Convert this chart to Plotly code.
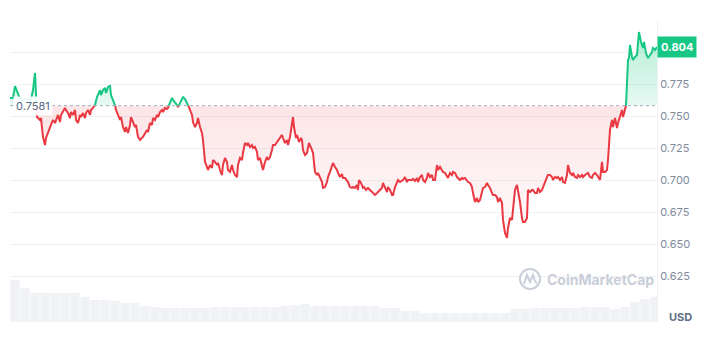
import plotly.graph_objects as go

BASE = 0.7581
LAST = 0.804

# time step index (one step ~ 2.2 minutes over a 24h window)
t_idx = [0, 3, 5, 8, 10, 14, 18, 21, 23, 25, 26, 27, 30, 31, 33, 35, 36, 38, 41, 43, 45, 48, 50, 51, 55, 56, 58, 60, 61, 63, 65, 66, 68, 70, 71, 73, 75, 76, 78, 80, 81, 83, 85, 87, 90, 91, 93, 95, 96, 98, 100, 101, 103, 105, 106, 108, 110, 111, 113, 115, 116, 118, 120, 121, 123, 125, 126, 128, 130,
         133, 137, 138, 140, 142, 143, 145, 147, 148, 150, 152, 153, 155, 157, 158, 160, 162, 163, 165, 167, 168, 170, 172, 173, 175, 177, 178, 180, 182, 183, 185, 187, 188, 190, 192, 193, 195, 197, 198, 200, 202, 203, 205, 207, 208, 210, 212, 213, 215, 217, 218, 220, 222, 223, 225, 227, 228, 230, 232, 233, 235, 237, 238, 240, 242, 243, 245, 247, 248, 250, 252, 253, 255, 257, 258, 260, 262, 263,
         265, 267, 268, 270, 272, 273, 275, 277, 278, 280, 282, 283, 284, 286, 287, 289, 291, 292, 293, 295, 297, 298, 299, 302, 303, 305, 307, 308, 310, 312, 313, 315, 317, 318, 320, 322, 323, 325, 327, 328, 330, 332, 333, 335, 337, 338, 340, 342, 343, 345, 347, 348, 349, 351, 353, 354, 356, 358, 360, 362, 363, 365, 367, 368, 370, 372, 373, 375, 377, 378, 380, 382, 383, 385, 387, 388, 390,
         393, 395, 397, 398, 402, 403, 405, 407, 408, 410, 412, 413, 415, 417, 418, 420, 422, 423, 425, 427, 428, 430, 432, 433, 435, 437, 438, 440, 442, 443, 445, 447, 448, 450, 452, 453, 455, 457, 458, 460, 462, 463, 465, 467, 468, 470, 472, 473, 475, 477, 478, 480, 482, 483, 485, 487, 488, 490, 492, 493, 495, 497, 498, 500, 502, 503, 505, 507, 508, 510, 512, 513, 515, 517, 518, 520, 522,
         523, 525, 527, 528, 530, 532, 533, 535, 537, 538, 540, 542, 543, 545, 547, 548, 550, 552, 553, 555, 557, 558, 560, 562, 563, 565, 567, 568, 570, 572, 573, 575, 577, 578, 580, 582, 583, 585, 587, 588, 590, 592, 593, 595, 597, 598, 600, 602, 603, 605, 607, 608, 610, 612, 613, 615, 616, 617, 618, 619, 620, 622, 623, 625, 627, 628, 629, 631, 633, 634, 636, 638, 640, 642, 643, 645, 647]

price = [0.7641, 0.7641, 0.7734, 0.7680, 0.7633, 0.7625, 0.7633, 0.7625, 0.7703, 0.7836, 0.7703, 0.7492, 0.7469, 0.7484, 0.7336, 0.7273, 0.7328, 0.7375, 0.7430, 0.7469, 0.7445, 0.7508, 0.7453, 0.7508, 0.7563, 0.7547, 0.7523, 0.7484, 0.7531, 0.7508, 0.7547, 0.7469, 0.7445, 0.7508, 0.7492, 0.7523, 0.7484, 0.7523, 0.7547, 0.7508, 0.7547, 0.7563, 0.7586, 0.7648, 0.7703, 0.7664, 0.7703, 0.7719, 0.7680, 0.7727, 0.7734, 0.7664, 0.7625, 0.7586, 0.7547, 0.7508, 0.7469, 0.7492, 0.7414, 0.7375, 0.7414, 0.7367, 0.7430, 0.7492, 0.7453, 0.7414, 0.7430, 0.7336, 0.7313,
         0.7336, 0.7391, 0.7375, 0.7445, 0.7430, 0.7484, 0.7469, 0.7508, 0.7492, 0.7531, 0.7547, 0.7531, 0.7563, 0.7555, 0.7563, 0.7609, 0.7641, 0.7625, 0.7609, 0.7586, 0.7570, 0.7602, 0.7625, 0.7648, 0.7633, 0.7602, 0.7586, 0.7547, 0.7508, 0.7453, 0.7414, 0.7445, 0.7484, 0.7414, 0.7367, 0.7313, 0.7141, 0.7102, 0.7078, 0.7117, 0.7094, 0.7156, 0.7141, 0.7117, 0.7133, 0.7078, 0.7039, 0.7117, 0.7172, 0.7141, 0.7078, 0.7063, 0.7117, 0.7078, 0.7039, 0.7023, 0.7117, 0.7172, 0.7156, 0.7211, 0.7289, 0.7273, 0.7289, 0.7258, 0.7273, 0.7250, 0.7258, 0.7219, 0.7156, 0.7172, 0.7102, 0.7078, 0.7141, 0.7180, 0.7156, 0.7180, 0.7234, 0.7273,
         0.7273, 0.7297, 0.7305, 0.7328, 0.7352, 0.7328, 0.7289, 0.7313, 0.7273, 0.7336, 0.7453, 0.7492, 0.7414, 0.7328, 0.7352, 0.7297, 0.7328, 0.7313, 0.7234, 0.7195, 0.7211, 0.7258, 0.7289, 0.7234, 0.7211, 0.7063, 0.7039, 0.7055, 0.7023, 0.6984, 0.6938, 0.6945, 0.6984, 0.7023, 0.7063, 0.7102, 0.7133, 0.7102, 0.7078, 0.7055, 0.7023, 0.7047, 0.7016, 0.7016, 0.7000, 0.6984, 0.6945, 0.6938, 0.6945, 0.6938, 0.6961, 0.6922, 0.7000, 0.6977, 0.6938, 0.6945, 0.6922, 0.6938, 0.6922, 0.6906, 0.6898, 0.6883, 0.6898, 0.6906, 0.6922, 0.6938, 0.6977, 0.6938, 0.6906, 0.6945, 0.6922, 0.6883, 0.6883, 0.6945, 0.6984, 0.7000, 0.6984,
         0.7000, 0.7023, 0.6984, 0.7000, 0.7000, 0.7008, 0.6992, 0.7016, 0.6984, 0.7023, 0.7039, 0.7000, 0.6984, 0.7016, 0.7055, 0.7023, 0.7039, 0.7000, 0.7000, 0.7117, 0.7078, 0.7102, 0.7078, 0.7063, 0.7055, 0.7023, 0.7016, 0.7055, 0.7039, 0.7063, 0.7055, 0.7023, 0.7016, 0.7000, 0.7016, 0.7008, 0.7016, 0.7000, 0.6984, 0.6977, 0.6945, 0.6898, 0.6828, 0.6859, 0.6828, 0.6844, 0.6898, 0.6938, 0.6945, 0.6977, 0.6961, 0.6938, 0.6898, 0.6883, 0.6883, 0.6867, 0.6828, 0.6859, 0.6820, 0.6688, 0.6586, 0.6547, 0.6625, 0.6703, 0.6688, 0.6781, 0.6922, 0.6961, 0.6922, 0.6828, 0.6703, 0.6672, 0.6672, 0.6703, 0.6922, 0.6906, 0.6922,
         0.6922, 0.6898, 0.6898, 0.6938, 0.6906, 0.6922, 0.6945, 0.6977, 0.7023, 0.7039, 0.7039, 0.7023, 0.7000, 0.7023, 0.7016, 0.7023, 0.7000, 0.7023, 0.6984, 0.6977, 0.7039, 0.7117, 0.7055, 0.7039, 0.7055, 0.7023, 0.7016, 0.7039, 0.7023, 0.7039, 0.7023, 0.7039, 0.7047, 0.7055, 0.7023, 0.7016, 0.7039, 0.7055, 0.7039, 0.7023, 0.7000, 0.7141, 0.7063, 0.7063, 0.7078, 0.7156, 0.7391, 0.7469, 0.7414, 0.7484, 0.7406, 0.7445, 0.7508, 0.7547, 0.7492, 0.7563, 0.7578, 0.7781, 0.7938, 0.7953, 0.8055, 0.7961, 0.7938, 0.7961, 0.7977, 0.8070, 0.8156, 0.8078, 0.8031, 0.8078, 0.7992, 0.7953, 0.7977, 0.8000, 0.8031, 0.8016, 0.8040]

vol_t = [5 + 10 * i for i in range(65)]
volume = [42, 34, 29, 29, 29, 29, 29, 25, 22, 22, 21, 19, 19, 16, 15, 14, 14, 14, 14, 14, 15, 15, 15, 15, 15, 15, 15, 16, 17, 18, 16, 16, 16, 16, 16, 16, 16, 14, 14, 11, 11, 9, 9, 9, 9, 9, 9, 9, 9, 9, 13, 13, 14, 14, 14, 14, 14, 15, 15, 15, 13, 15, 20, 23, 25]

y_ticks = [0.625, 0.650, 0.675, 0.700, 0.725, 0.750, 0.775, 0.800]
y_tick_text = ["0.625", "0.650", "0.675", "0.700", "0.725", "0.750", "0.775", ""]

GREEN = "#16c784"
RED = "#ea3943"

# split the series at the baseline so each side gets its own colour
xs, ys = [], []
for i in range(len(price)):
    if i > 0:
        p0, p1 = price[i - 1], price[i]
        if (p0 - BASE) * (p1 - BASE) < 0:
            f = (BASE - p0) / (p1 - p0)
            xs.append(t_idx[i - 1] + f * (t_idx[i] - t_idx[i - 1]))
            ys.append(BASE)
    xs.append(t_idx[i])
    ys.append(price[i])

above = [max(v, BASE) for v in ys]
below = [min(v, BASE) for v in ys]
green_line = [v if v >= BASE else None for v in ys]
red_line = [v if v <= BASE else None for v in ys]

x_min, x_max = t_idx[0], t_idx[-1]

fig = go.Figure()

fig.add_trace(go.Bar(x=vol_t, y=volume, yaxis="y2", marker=dict(color="#f0f2f6", line=dict(width=0)),
                     hoverinfo="skip"))

fig.add_trace(go.Scatter(x=[x_min, x_max], y=[BASE, BASE], mode="lines", line=dict(width=0),
                         hoverinfo="skip"))
fig.add_trace(go.Scatter(x=xs, y=above, mode="lines", line=dict(width=0), fill="tonexty",
                         fillgradient=dict(type="vertical", start=BASE, stop=max(price),
                                           colorscale=[[0, "rgba(22,199,132,0.10)"], [1, "rgba(22,199,132,0.32)"]]),
                         hoverinfo="skip"))
fig.add_trace(go.Scatter(x=[x_min, x_max], y=[BASE, BASE], mode="lines", line=dict(width=0),
                         hoverinfo="skip"))
fig.add_trace(go.Scatter(x=xs, y=below, mode="lines", line=dict(width=0), fill="tonexty",
                         fillgradient=dict(type="vertical", start=min(price), stop=BASE,
                                           colorscale=[[0, "rgba(234,57,67,0.02)"], [1, "rgba(234,57,67,0.13)"]]),
                         hoverinfo="skip"))
fig.add_trace(go.Scatter(x=xs, y=red_line, mode="lines", line=dict(color=RED, width=2), connectgaps=False))
fig.add_trace(go.Scatter(x=xs, y=green_line, mode="lines", line=dict(color=GREEN, width=2), connectgaps=False))

# layout geometry helpers for decorations (paper coords)
L, R, T, B = 10, 51, 20, 24
W, H = 708, 346
pw, ph = W - L - R, H - T - B


def px(x):
    return (x - L) / pw


def py(y):
    return (H - B - y) / ph


shapes = [
    dict(type="line", xref="x", yref="y", x0=x_min, x1=x_max, y0=BASE, y1=BASE,
         line=dict(color="#a6b0c3", width=1, dash="dot")),
    dict(type="circle", xref="paper", yref="paper", x0=px(520), x1=px(540), y0=py(289), y1=py(269),
         line=dict(color="#c9ced8", width=2)),
    dict(type="path", xref="paper", yref="paper",
         path=f"M {px(524)},{py(284)} L {px(527)},{py(275)} L {px(530)},{py(282)} L {px(533)},{py(275)} Q {px(535)},{py(283)} {px(537)},{py(283)}",
         line=dict(color="#c9ced8", width=2)),
]

annotations = [
    dict(xref="x", yref="y", x=x_min, y=BASE, xanchor="left", yanchor="middle", xshift=3,
         text="0.7581", showarrow=False, font=dict(color="#58667e", size=11),
         bgcolor="rgba(255,255,255,0.9)", borderpad=2),
    dict(xref="paper", yref="y", x=1, y=LAST, xanchor="left", yanchor="middle",
         text="<b>0.804</b>", showarrow=False, font=dict(color="white", size=11),
         bgcolor=GREEN, borderpad=3),
    dict(xref="paper", yref="paper", x=1, y=py(317), xanchor="left", yanchor="middle", xshift=10,
         text="<b>USD</b>", showarrow=False, font=dict(color="#616e85", size=11)),
    dict(xref="paper", yref="paper", x=px(545), y=py(279), xanchor="left", yanchor="middle",
         text="<b>CoinMarketCap</b>", showarrow=False, font=dict(color="#c9ced8", size=14)),
]

fig.update_layout(
    width=W, height=H,
    margin=dict(l=L, r=R, t=T, b=B),
    paper_bgcolor="white", plot_bgcolor="white",
    showlegend=False, bargap=0.06,
    font=dict(family="Inter", color="#808a9d"),
    xaxis=dict(range=[x_min, x_max], visible=False, fixedrange=True),
    yaxis=dict(side="right", range=[0.58906, 0.825], tickvals=y_ticks, ticktext=y_tick_text,
               showgrid=True, gridcolor="#eff2f5", gridwidth=1, zeroline=False,
               showline=True, linecolor="#eff2f5", linewidth=1, ticks="",
               tickfont=dict(size=11, color="#808a9d")),
    yaxis2=dict(overlaying="y", range=[0, 302], visible=False),
    shapes=shapes,
    annotations=annotations,
)

fig.write_html("out.html")
